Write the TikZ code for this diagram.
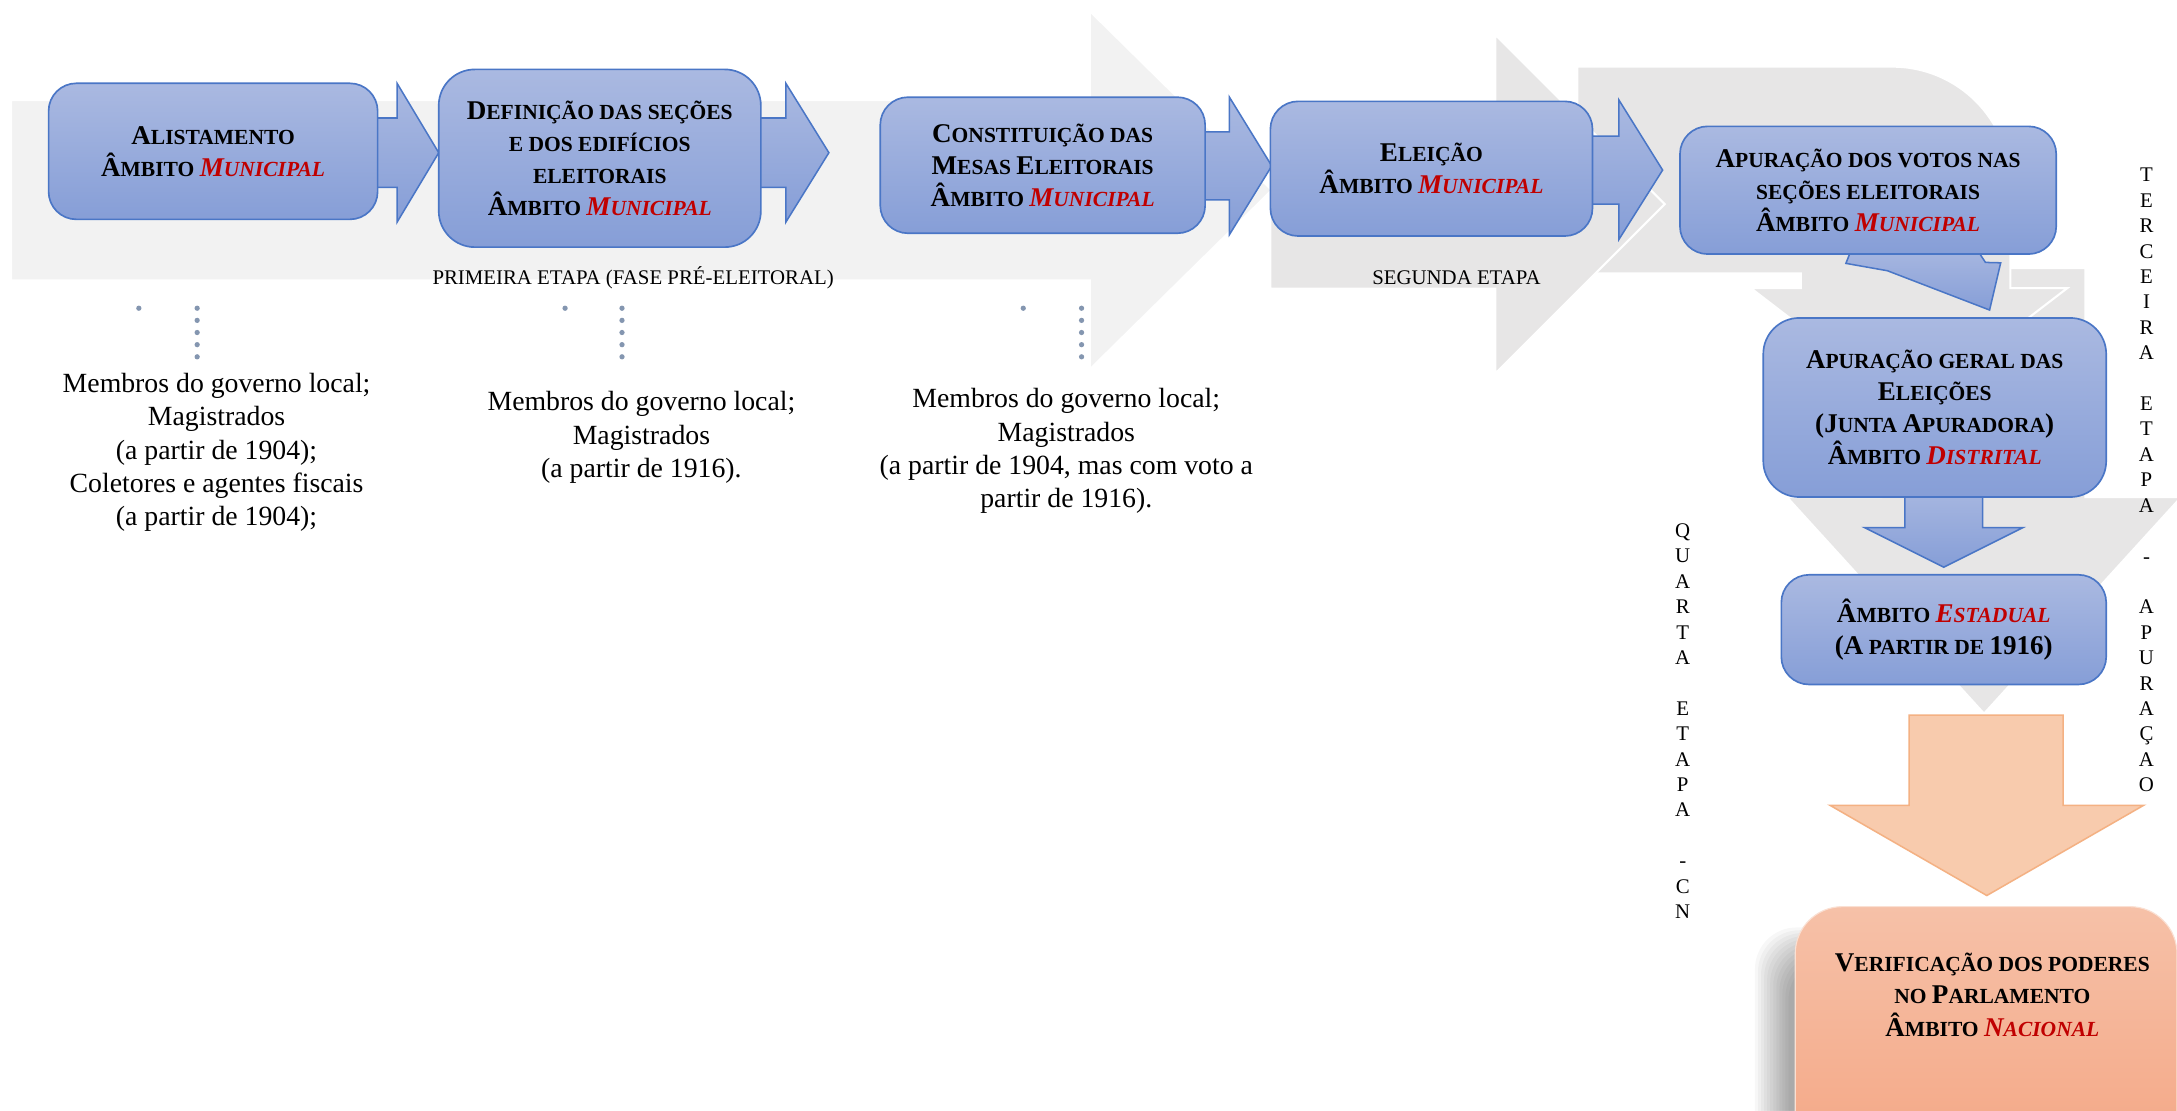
\documentclass[tikz,border=0pt]{standalone}
\usepackage{fontspec}
\setmainfont{Liberation Serif}
\definecolor{boxtop}{HTML}{AAB9E1}
\definecolor{boxbot}{HTML}{869ED7}
\definecolor{boxline}{HTML}{4A76C6}
\definecolor{grayA}{HTML}{F2F2F2}
\definecolor{grayB}{HTML}{E7E6E6}
\definecolor{redt}{HTML}{C00000}
\definecolor{dotc}{HTML}{8496B0}
\definecolor{orfill}{HTML}{F8CBAD}
\definecolor{orline}{HTML}{F4B183}
\definecolor{vtop}{HTML}{F6C1A8}
\definecolor{vbot}{HTML}{F4A684}
\newcommand\BigC[1]{{\fontsize{19.5}{23}\selectfont #1}}
\newcommand\Red[1]{\textcolor{redt}{\itshape #1}}
\begin{document}
\begin{tikzpicture}[x=1pt,y=-1pt,
  bluebox/.style={draw=boxline, line width=1.2pt, rounded corners=20pt,
    top color=boxtop, bottom color=boxbot, align=center,
    font=\fontsize{15.5}{23}\selectfont\bfseries, inner sep=0pt},
  bluearrow/.style={draw=boxline, line width=1.1pt, top color=boxtop, bottom color=boxbot},
  bgA/.style={fill=grayA, draw=white, line width=1.5pt},
  bgB/.style={fill=grayB, draw=white, line width=1.5pt},
  lowtext/.style={align=center, font=\fontsize{20}{24}\selectfont, inner sep=0pt},
  stagelabel/.style={font=\fontsize{15}{18}\selectfont, inner sep=0pt},
  vertlabel/.style={align=center, font=\fontsize{15}{18.3}\selectfont, inner sep=0pt, anchor=north},
  dotmark/.style={fill=dotc},
  shadowlayer/.style={fill=black, opacity=0.032, rounded corners=30pt},
]
\useasboundingbox (0,0) rectangle (1568,799.5);
\fill[white] (0,0) rectangle (1568,799.5);

% ---- background stage arrows ----
% fourth stage (big down arrow)
\path[bgB] (1355,193) -- (1502,193) -- (1502,358) -- (1571,358) -- (1429,514)
  -- (1287,358) -- (1355,358) -- cycle;
% third stage (bent arrow)
\path[bgB] (1136,197) -- (1136,48) -- (1363,48)
  .. controls (1410,48) and (1448,86) .. (1448,133)
  -- (1448,207.5) -- (1489,207.5) -- (1375,295) -- (1261,207.5)
  -- (1297,207.5) -- (1297,197) -- cycle;
% second stage
\path[bgB] (915,86) -- (1077,86) -- (1077,25) -- (1199,147) -- (1077,269)
  -- (1077,208) -- (915,208) -- cycle;
% first stage
\path[bgA] (8,72) -- (785,72) -- (785,8) -- (916,137) -- (785,266)
  -- (785,202) -- (8,202) -- cycle;

\node[stagelabel] (lab1) at (456,200) {PRIMEIRA ETAPA (FASE PRÉ-ELEITORAL)};
\node[stagelabel] (lab2) at (1049,200) {SEGUNDA ETAPA};

% ---- blue block arrows (behind boxes) ----
\path[bluearrow] (262,85) -- (286,85) -- (286,60) -- (316,110) -- (286,160) -- (286,135) -- (262,135) -- cycle;
\path[bluearrow] (538,85) -- (566,85) -- (566,60) -- (597,110) -- (566,160) -- (566,135) -- (538,135) -- cycle;
\path[bluearrow] (858,95) -- (885.5,95) -- (885.5,70) -- (916,119.5) -- (885.5,169) -- (885.5,144) -- (858,144) -- cycle;
\path[bluearrow] (1137,98) -- (1166,98) -- (1166,72) -- (1197.5,122.5) -- (1166,172.5) -- (1166,147) -- (1137,147) -- cycle;
\path[bluearrow] (1335,176) -- (1329.5,189.7) -- (1359.4,195) -- (1433,223.3) -- (1441,189.3) -- (1430,189) -- (1421.5,176) -- cycle;
\path[bluearrow] (1372,348) -- (1428,348) -- (1428,380) -- (1457,380) -- (1400,408.5) -- (1343,380) -- (1372,380) -- cycle;

% ---- blue boxes ----
\node[bluebox, minimum width=237pt, minimum height=98pt] (b1) at (153.5,109)
  {\BigC{A}LISTAMENTO\\\BigC{Â}MBITO \Red{\BigC{M}UNICIPAL}};
\node[bluebox, rounded corners=26pt, minimum width=232pt, minimum height=128pt] (b2) at (432,114)
  {\BigC{D}EFINIÇÃO DAS SEÇÕES\\E DOS EDIFÍCIOS\\ELEITORAIS\\\BigC{Â}MBITO \Red{\BigC{M}UNICIPAL}};
\node[bluebox, minimum width=234pt, minimum height=98pt] (b3) at (751,119)
  {\BigC{C}ONSTITUIÇÃO DAS\\\BigC{M}ESAS \BigC{E}LEITORAIS\\\BigC{Â}MBITO \Red{\BigC{M}UNICIPAL}};
\node[bluebox, minimum width=232pt, minimum height=97pt] (b4) at (1031,121.5)
  {\BigC{E}LEIÇÃO\\\BigC{Â}MBITO \Red{\BigC{M}UNICIPAL}};
\node[bluebox, minimum width=271pt, minimum height=92pt] (b5) at (1345.5,137)
  {\BigC{A}PURAÇÃO DOS VOTOS NAS\\SEÇÕES ELEITORAIS\\\BigC{Â}MBITO \Red{\BigC{M}UNICIPAL}};
\node[bluebox, rounded corners=26pt, minimum width=247pt, minimum height=129pt] (b6) at (1393.5,293.5)
  {\BigC{A}PURAÇÃO GERAL DAS\\\BigC{E}LEIÇÕES\\\BigC{(J}UNTA \BigC{A}PURADORA\BigC{)}\\\BigC{Â}MBITO \Red{\BigC{D}ISTRITAL}};
\node[bluebox, minimum width=234pt, minimum height=79pt] (b7) at (1400,453.5)
  {\BigC{Â}MBITO \Red{\BigC{E}STADUAL}\\\BigC{(A} PARTIR DE \BigC{1916)}};

% ---- orange arrow and final box ----
\path[fill=orfill, draw=orline, line width=1.1pt] (1375,515) -- (1486,515) -- (1486,580) -- (1544,580)
  -- (1431,645) -- (1318,580) -- (1375,580) -- cycle;
\foreach \k in {0,...,11}
  \fill[shadowlayer] (1264+2.2*\k,668+2*\k) rectangle (1560,850);
\node[rounded corners=34pt, minimum width=275pt, minimum height=190pt, inner sep=0pt,
  top color=vtop, bottom color=vbot, draw=vtop!50!white, line width=0.8pt]
  (b8) at (1430.5,748) {};
\node[align=center, font=\fontsize{15.5}{23.5}\selectfont\bfseries, inner sep=0pt] (t8) at (1435,716.5)
  {\BigC{V}ERIFICAÇÃO DOS PODERES\\NO \BigC{P}ARLAMENTO\\\BigC{Â}MBITO \Red{\BigC{N}ACIONAL}};

% ---- dotted markers ----
\foreach \xa/\xb in {100/142, 407/448, 737/779} {
  \fill[dotmark] (\xa,222) circle (1.9pt);
  \foreach \yy in {222,230.75,239.5,248.25,257} \fill[dotmark] (\xb,\yy) circle (1.9pt);
}

% ---- lower texts ----
\node[lowtext] (c1) at (156,326) {Membros do governo local;\\Magistrados\\(a partir de 1904);\\Coletores e agentes fiscais\\(a partir de 1904);};
\node[lowtext] (c2) at (462,315) {Membros do governo local;\\Magistrados\\(a partir de 1916).};
\node[lowtext] (c3) at (768,325) {Membros do governo local;\\Magistrados\\(a partir de 1904, mas com voto a\\partir de 1916).};

% ---- vertical labels ----
\node[vertlabel] (v3) at (1546,121) {T\\E\\R\\C\\E\\I\\R\\A\\~\\E\\T\\A\\P\\A\\~\\-\\~\\A\\P\\U\\R\\A\\Ç\\A\\O};
\node[vertlabel] (v4) at (1212,377) {Q\\U\\A\\R\\T\\A\\~\\E\\T\\A\\P\\A\\~\\-\\C\\N};
\end{tikzpicture}
\end{document}
